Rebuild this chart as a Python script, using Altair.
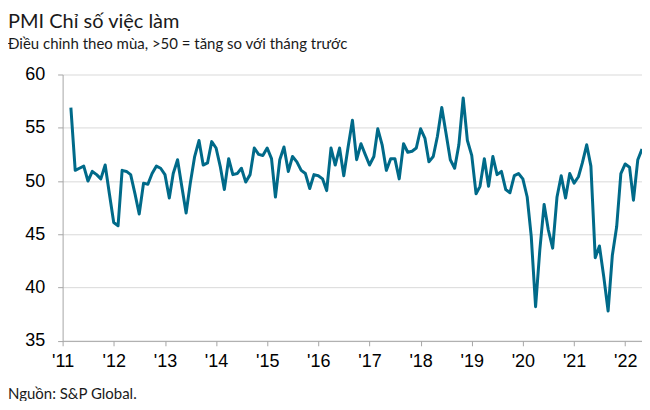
import altair as alt
import pandas as pd

TITLE = "PMI Chỉ số việc làm"
SUBTITLE = "Điều chỉnh theo mùa, >50 = tăng so với tháng trước"
SOURCE = "Nguồn: S&P Global."

start_month = "2011-03-01"
employment = [
    56.9, 51.0, 51.2, 51.4, 50.0, 50.9, 50.6, 50.2, 51.5, 48.8,
    46.1, 45.8, 51.0, 50.9, 50.6, 48.8, 46.9, 49.8, 49.7, 50.7, 51.4, 51.2,
    50.6, 48.4, 50.7, 52.0, 49.5, 47.0, 49.8, 52.3, 53.8, 51.5, 51.7, 53.7,
    53.1, 51.3, 49.2, 52.1, 50.6, 50.7, 51.2, 49.9, 50.6, 53.1, 52.5, 52.4,
    53.1, 52.1, 48.5, 52.0, 53.2, 50.9, 52.3, 51.8, 51.0, 50.7, 49.3, 50.6,
    50.5, 50.2, 49.1, 53.1, 51.5, 53.1, 50.5, 53.2, 55.7, 52.0, 53.5, 52.5,
    51.5, 52.3, 54.9, 53.4, 51.0, 52.1, 52.1, 50.2, 53.5, 52.7, 52.8, 53.1,
    54.9, 54.0, 51.8, 52.3, 54.2, 56.9, 54.5, 52.0, 51.2, 53.4, 57.8, 53.8,
    52.4, 48.8, 49.5, 52.1, 49.5, 52.3, 50.6, 50.9, 49.2, 48.9, 50.5, 50.7,
    50.2, 48.5, 44.8, 38.2, 43.5, 47.8, 45.4, 43.7, 48.5, 50.5, 48.4, 50.7,
    49.8, 50.4, 51.7, 53.4, 51.4, 42.8, 43.9, 41.0, 37.8, 43.0, 45.7, 50.7,
    51.6, 51.3, 48.2, 52.0, 53.0,
]
year_ticks = list(range(2011, 2023))
y_ticks = [35, 40, 45, 50, 55, 60]

dates = pd.date_range(start_month, periods=len(employment), freq="MS")
df = pd.DataFrame({"date": dates.strftime("%Y-%m-%d"), "value": employment})

W, H = 580.3, 266.7
PAD_L, PAD_T = 54.7, 66.3

line = alt.Chart(df).mark_line(color="#006A89", strokeWidth=3, strokeJoin="round").encode(
    x=alt.X(
        "date:T",
        title=None,
        scale=alt.Scale(
            type="utc",
            domain=[alt.DateTime(year=2011, month=1, date=1, utc=True),
                    alt.DateTime(year=2022, month=5, date=1, utc=True)],
        ),
        axis=alt.Axis(
            values=[alt.DateTime(year=y, month=1, date=1, utc=True) for y in year_ticks],
            format="'%y",
            grid=False,
            tickSize=5,
            labelPadding=7,
            labelFontSize=18,
            labelFont="Liberation Sans",
            labelColor="#000000",
            domainColor="#a6a6a6",
            tickColor="#a6a6a6",
            labelFlush=False,
        ),
    ),
    y=alt.Y(
        "value:Q",
        title=None,
        scale=alt.Scale(domain=[35, 60], nice=False, zero=False),
        axis=alt.Axis(
            values=y_ticks,
            grid=True,
            gridColor="#d9d9d9",
            gridWidth=1,
            tickSize=5,
            labelPadding=13,
            labelFontSize=18,
            labelFont="Liberation Sans",
            labelColor="#000000",
            domainColor="#a6a6a6",
            tickColor="#a6a6a6",
        ),
    ),
)

footer = alt.Chart(pd.DataFrame({"t": [SOURCE]})).mark_text(
    align="left", baseline="alphabetic", font="Lato", fontSize=15, color="#1a1a1a"
).encode(text="t:N", x=alt.value(-PAD_L), y=alt.value(H + 58))

chart = alt.layer(line, footer).properties(
    width=W,
    height=H,
    padding={"left": PAD_L, "top": PAD_T, "right": 0, "bottom": 60},
    autosize=alt.AutoSizeParams(type="none"),
    title=alt.TitleParams(
        text=TITLE,
        subtitle=SUBTITLE,
        anchor="start",
        frame="group",
        font="Lato",
        fontSize=20,
        fontWeight="normal",
        color="#1a1a1a",
        subtitleFont="Lato",
        subtitleFontSize=15,
        subtitleColor="#1a1a1a",
        subtitlePadding=5,
        dx=-PAD_L,
        offset=14,
    ),
).configure_view(stroke=None)

chart.save("out.html", embed_options={"renderer": "svg", "actions": False})
